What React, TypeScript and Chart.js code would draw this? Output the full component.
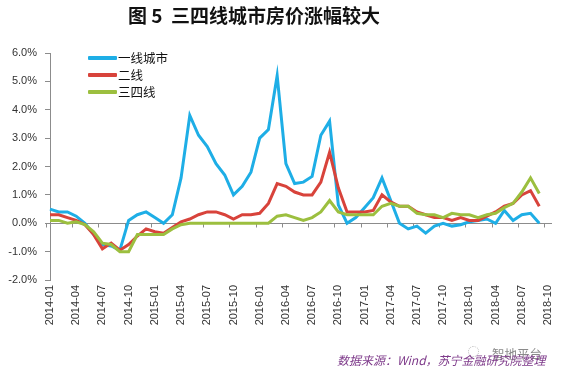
import React, { useEffect, useRef } from "react";
import { Chart, registerables } from "chart.js";

Chart.register(...registerables);

const categories: string[] = [
  "2014-01", "2014-02", "2014-03", "2014-04", "2014-05", "2014-06", "2014-07", "2014-08", "2014-09", "2014-10", "2014-11", "2014-12",
  "2015-01", "2015-02", "2015-03", "2015-04", "2015-05", "2015-06", "2015-07", "2015-08", "2015-09", "2015-10", "2015-11", "2015-12",
  "2016-01", "2016-02", "2016-03", "2016-04", "2016-05", "2016-06", "2016-07", "2016-08", "2016-09", "2016-10", "2016-11", "2016-12",
  "2017-01", "2017-02", "2017-03", "2017-04", "2017-05", "2017-06", "2017-07", "2017-08", "2017-09", "2017-10", "2017-11", "2017-12",
  "2018-01", "2018-02", "2018-03", "2018-04", "2018-05", "2018-06", "2018-07", "2018-08", "2018-09", "2018-10",
];

const tier1: (number | null)[] = [
  0.5, 0.4, 0.4, 0.25, 0.0, -0.4, -0.75, -0.8, -0.95, 0.1,
  0.3, 0.4, 0.2, 0.0, 0.3, 1.6, 3.8, 3.1, 2.7, 2.1,
  1.7, 1.0, 1.3, 1.8, 3.0, 3.3, 5.2, 2.1, 1.4, 1.45,
  1.65, 3.1, 3.6, 0.65, 0.0, 0.2, 0.55, 0.9, 1.6, 0.8,
  0.0, -0.2, -0.1, -0.35, -0.1, 0.0, -0.1, -0.05, 0.05, 0.1,
  0.15, 0.0, 0.45, 0.1, 0.3, 0.35, 0.0, null,
];

const tier2: (number | null)[] = [
  0.3, 0.3, 0.2, 0.1, -0.05, -0.4, -0.9, -0.7, -0.95, -0.75,
  -0.45, -0.2, -0.3, -0.35, -0.15, 0.05, 0.15, 0.3, 0.4, 0.4,
  0.3, 0.15, 0.3, 0.3, 0.35, 0.7, 1.4, 1.3, 1.1, 1.0,
  1.0, 1.45, 2.5, 1.25, 0.4, 0.4, 0.4, 0.45, 1.0, 0.75,
  0.6, 0.6, 0.4, 0.3, 0.2, 0.2, 0.1, 0.2, 0.1, 0.1,
  0.25, 0.4, 0.6, 0.7, 1.0, 1.15, 0.6, null,
];

const tier34: (number | null)[] = [
  0.1, 0.1, 0.0, 0.05, -0.05, -0.3, -0.7, -0.75, -1.0, -1.0,
  -0.4, -0.4, -0.4, -0.4, -0.2, -0.05, 0.0, 0.0, 0.0, 0.0,
  0.0, 0.0, 0.0, 0.0, 0.0, 0.0, 0.25, 0.3, 0.2, 0.1,
  0.2, 0.4, 0.8, 0.4, 0.3, 0.3, 0.3, 0.3, 0.6, 0.7,
  0.6, 0.6, 0.35, 0.3, 0.3, 0.2, 0.35, 0.3, 0.3, 0.2,
  0.3, 0.35, 0.55, 0.7, 1.1, 1.6, 1.05, null,
];

const seriesNames = ["一线城市", "二线", "三四线"];
const seriesColors = ["#1eaee6", "#d8433b", "#9cbf3f"];

const TITLE = "图 5  三四线城市房价涨幅较大";
const SOURCE = "数据来源：Wind，苏宁金融研究院整理";
const WATERMARK = "智地平台";

const AXIS_COLOR = "#8c8c8c";
const TICK_FONT = { family: "'Liberation Sans', Arial, sans-serif", size: 11 };

export default function App() {
  const ref = useRef<HTMLCanvasElement>(null);

  useEffect(() => {
    if (!ref.current) return;
    const zeroAxis = {
      id: "zeroAxis",
      beforeDatasetsDraw(chart: any) {
        const { ctx, chartArea, scales } = chart;
        const y = Math.round(scales.y.getPixelForValue(0)) + 0.5;
        ctx.save();
        ctx.strokeStyle = AXIS_COLOR;
        ctx.lineWidth = 1;
        ctx.beginPath();
        ctx.moveTo(chartArea.left, y);
        ctx.lineTo(chartArea.right + 4, y);
        for (let i = 0; i < categories.length; i += 3) {
          const x = Math.round(scales.x.getPixelForValue(i) - 4) + 0.5;
          ctx.moveTo(x, y);
          ctx.lineTo(x, y + 4);
        }
        ctx.stroke();
        ctx.restore();
      },
    };

    const data = [tier1, tier2, tier34];
    const chart = new Chart(ref.current, {
      type: "line",
      data: {
        labels: categories,
        datasets: data.map((d, k) => ({
          label: seriesNames[k],
          data: d,
          borderColor: seriesColors[k],
          backgroundColor: seriesColors[k],
          borderWidth: 3,
          pointRadius: 0,
          tension: 0,
          fill: false,
          order: 3 - k,
        })),
      },
      options: {
        responsive: false,
        animation: false,
        layout: { padding: { top: 53, right: 40, left: 0, bottom: 0 } },
        plugins: {
          legend: { display: false },
          title: { display: false },
          tooltip: { enabled: false },
        },
        scales: {
          x: {
            type: "category",
            offset: false,
            grid: { display: false, drawTicks: false },
            border: { display: false },
            ticks: {
              autoSkip: false,
              maxRotation: 90,
              minRotation: 90,
              padding: 5,
              color: "#333",
              font: TICK_FONT,
              callback: (_v: any, i: number) => (i % 3 === 0 ? categories[i] : ""),
            },
            afterFit: (s: any) => {
              s.height = 102;
            },
          },
          y: {
            min: -2,
            max: 6,
            ticks: {
              stepSize: 1,
              padding: 8,
              color: "#333",
              font: TICK_FONT,
              callback: (v: any) => Number(v).toFixed(1) + "%",
            },
            grid: { drawOnChartArea: false, drawTicks: true, tickLength: 5, color: AXIS_COLOR },
            border: { display: true, color: AXIS_COLOR },
            afterFit: (s: any) => {
              s.width = 50;
            },
          },
        },
      },
      plugins: [zeroAxis],
    });
    return () => chart.destroy();
  }, []);

  const cjk = "'Noto Sans CJK SC', 'Noto Sans', sans-serif";

  return (
    <div style={{ position: "absolute", left: 0, top: 0, width: 588, height: 382, background: "#fff", overflow: "hidden" }}>
      <canvas ref={ref} width={588} height={382} style={{ position: "absolute", left: 0, top: 0 }} />
      <div
        style={{
          position: "absolute",
          left: 0,
          top: 3,
          width: 508,
          textAlign: "center",
          fontFamily: cjk,
          fontWeight: 700,
          fontSize: 19,
          lineHeight: "24px",
          color: "#111",
          whiteSpace: "pre",
        }}
      >
        {TITLE}
      </div>
      {seriesNames.map((n, k) => (
        <div key={n} style={{ position: "absolute", left: 88, top: 49 + k * 17, height: 18, display: "flex", alignItems: "center" }}>
          <div style={{ width: 29, height: 4, background: seriesColors[k], borderRadius: 1 }} />
          <span style={{ fontFamily: cjk, fontSize: 12.5, lineHeight: "18px", color: "#111", marginLeft: 1 }}>{n}</span>
        </div>
      ))}
      <div
        style={{
          position: "absolute",
          left: 468,
          top: 346,
          width: 9,
          height: 9,
          borderRadius: "50%",
          border: "1px dotted #bbb",
        }}
      />
      <div
        style={{
          position: "absolute",
          left: 492,
          top: 346,
          fontFamily: cjk,
          fontSize: 12.5,
          lineHeight: "16px",
          color: "#8a8a8a",
        }}
      >
        {WATERMARK}
      </div>
      <div
        style={{
          position: "absolute",
          left: 337,
          top: 352,
          fontFamily: cjk,
          fontStyle: "italic",
          fontSize: 12,
          lineHeight: "16px",
          color: "#7e3a8a",
          whiteSpace: "pre",
        }}
      >
        {SOURCE}
      </div>
    </div>
  );
}
